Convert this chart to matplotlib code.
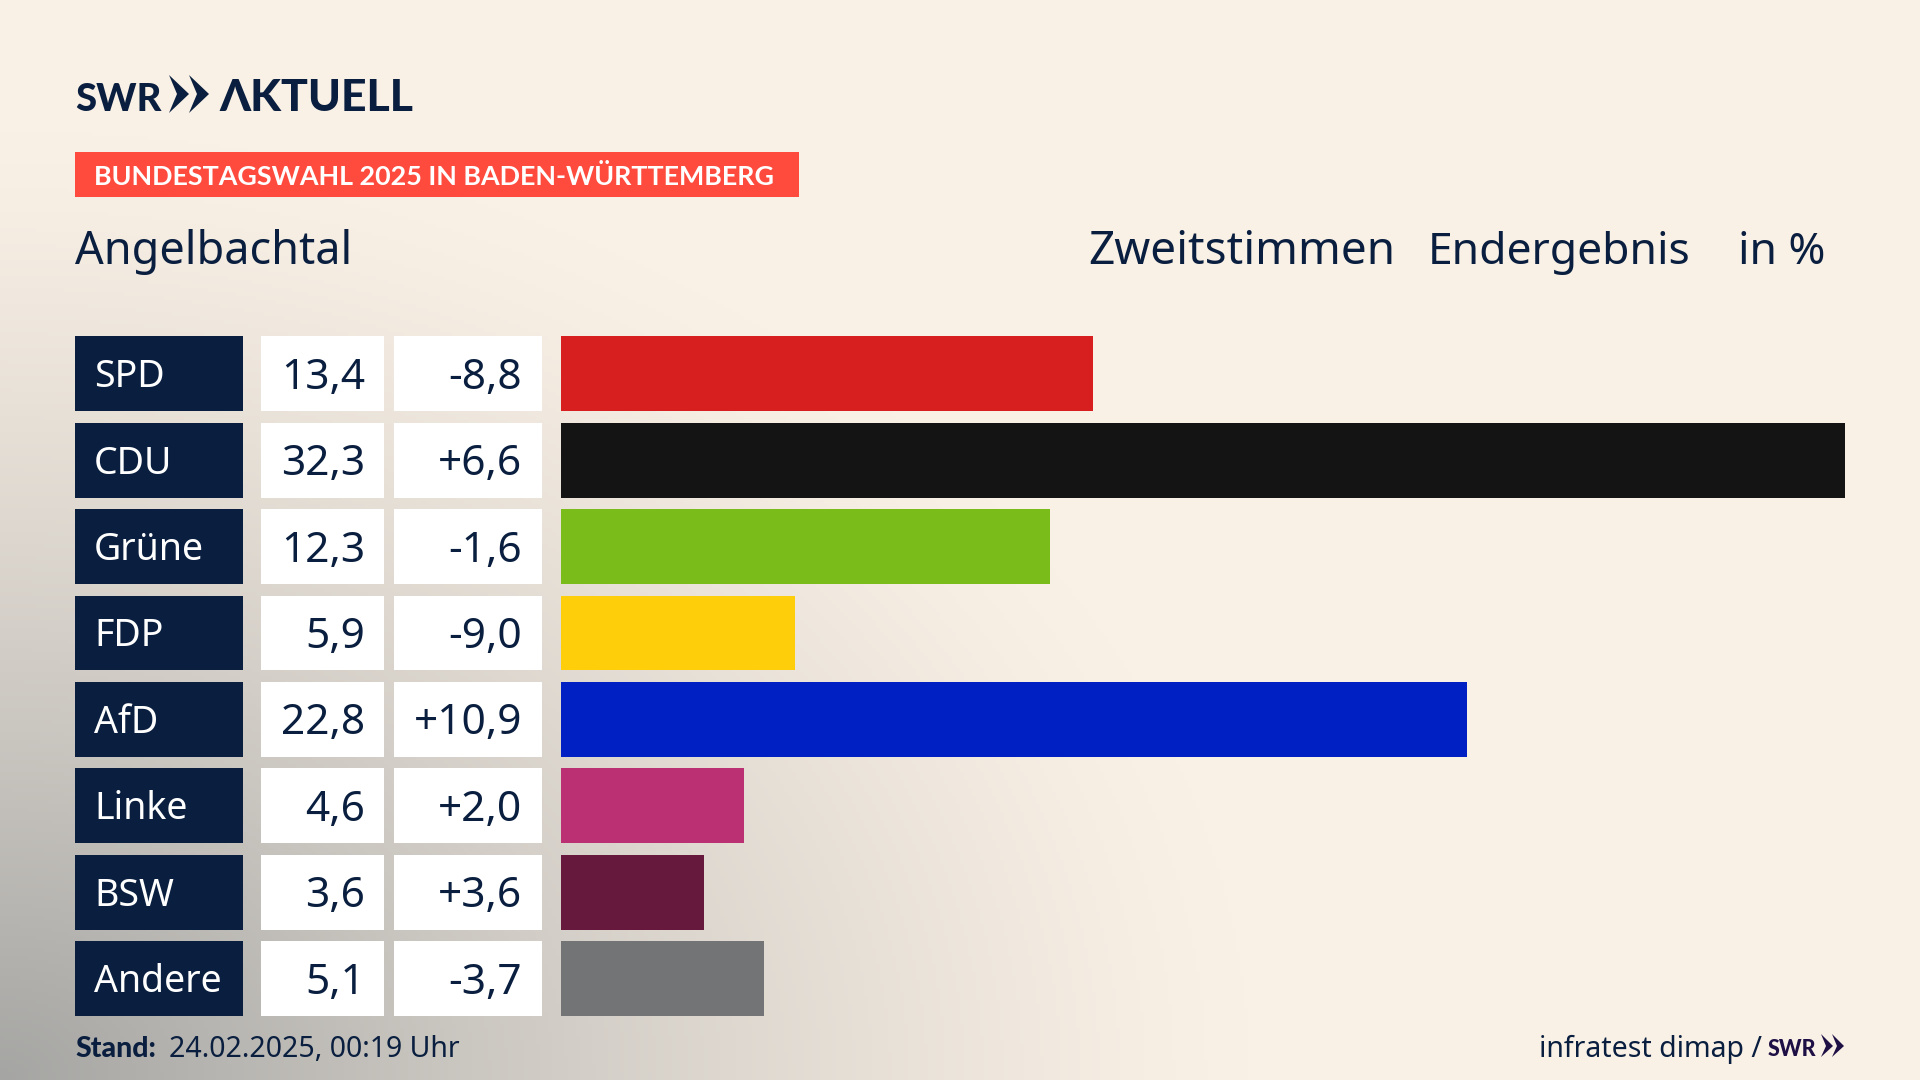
import numpy as np
import matplotlib
matplotlib.use('Agg')
import matplotlib.pyplot as plt
from matplotlib.patches import Rectangle, Polygon

# Daten
parteien = ['SPD', 'CDU', 'Grüne', 'FDP', 'AfD', 'Linke', 'BSW', 'Andere']
anteil = [13.4, 32.3, 12.3, 5.9, 22.8, 4.6, 3.6, 5.1]
anteil_text = ['13,4', '32,3', '12,3', '5,9', '22,8', '4,6', '3,6', '5,1']
diff_text = ['-8,8', '+6,6', '-1,6', '-9,0', '+10,9', '+2,0', '+3,6', '-3,7']
farben = ['#D71F1F', '#141414', '#7ABD1A', '#FFCE0A', '#0020C4', '#BB2F73', '#66193D', '#737476']

navy = '#0A1F3F'
fett = ['Lato', 'Liberation Sans']
sans = ['Noto Sans', 'DejaVu Sans']

fig = plt.figure(figsize=(19.2, 10.8), dpi=100)

# Hintergrund, grauer Verlauf von links unten
ax = fig.add_axes([0, 0, 1, 1])
xx, yy = np.meshgrid(np.linspace(0, 1920, 480), np.linspace(0, 1080, 270))
d = np.sqrt((xx / 1250) ** 2 + ((1080 - yy) / 950) ** 2)
t = np.clip(1 - d, 0, 1) ** 1.25
creme = np.array([250, 241, 230]) / 255
grau = np.array([165, 165, 163]) / 255
bg = creme[None, None, :] * (1 - t[..., None]) + grau[None, None, :] * t[..., None]
ax.imshow(bg, extent=[0, 1920, 1080, 0], aspect='auto', zorder=0)
ax.set_xlim(0, 1920)
ax.set_ylim(1080, 0)
ax.axis('off')

# Logo
ax.text(75, 111, 'SWR', family=fett, weight='black', fontsize=27.5, color=navy, va='baseline')
for x0 in [169, 189]:
    ax.add_patch(Polygon([(x0, 75), (x0 + 20, 94), (x0, 113), (x0 + 8, 94)], color=navy, lw=0))
ax.text(219, 111, 'ΛKTUELL', family=fett, weight='black', fontsize=32, color=navy, va='baseline')

# Kopfzeile
ax.add_patch(Rectangle((75, 152), 724, 45, color='#FF4B3E', lw=0))
ax.text(94, 185, 'BUNDESTAGSWAHL 2025 IN BADEN-WÜRTTEMBERG', family=fett, weight='bold',
        fontsize=19.4, color='white', va='baseline')
ax.text(75, 264, 'Angelbachtal', family=sans, fontsize=32.4, color=navy, va='baseline')
ax.text(1088, 264, 'Zweitstimmen', family=sans, fontsize=33, color=navy, va='baseline')
ax.text(1428, 264, 'Endergebnis', family=sans, fontsize=32, color=navy, va='baseline')
ax.text(1825, 264, 'in %', family=sans, fontsize=32, color=navy, va='baseline', ha='right')

# Tabelle links
oben = 336.4
abstand = 86.4
hoehe = 74.8
for i in range(len(parteien)):
    y = oben + i * abstand
    ax.add_patch(Rectangle((75, y), 167.5, hoehe, color=navy, lw=0))
    ax.add_patch(Rectangle((261, y), 123, hoehe, color='white', lw=0))
    ax.add_patch(Rectangle((394, y), 148, hoehe, color='white', lw=0))
    ym = y + hoehe / 2 - 1
    ax.text(94, ym, parteien[i], family=sans, fontsize=27, color='white', va='center_baseline')
    ax.text(365, ym, anteil_text[i], family=sans, fontsize=30.5, color=navy, va='center_baseline', ha='right')
    ax.text(522, ym, diff_text[i], family=sans, fontsize=30.5, color=navy, va='center_baseline', ha='right')

# Balken
ax_b = fig.add_axes([560.8 / 1920, 1 - (oben + 7 * abstand + hoehe) / 1080,
                     (1844.7 - 560.8) / 1920, (7 * abstand + hoehe) / 1080])
ax_b.patch.set_alpha(0)
ax_b.barh(range(len(parteien)), anteil, height=hoehe / abstand, color=farben)
ax_b.set_xlim(0, 32.3)
ax_b.set_ylim(7 + hoehe / abstand / 2, -hoehe / abstand / 2)
ax_b.axis('off')

# Fusszeile
ax.text(75, 1057, 'Stand:', family=fett, weight='black', fontsize=20.5, color=navy, va='baseline')
ax.text(169, 1057, '24.02.2025, 00:19 Uhr', family=sans, fontsize=20.5, color=navy, va='baseline')
ax.text(1539, 1057, 'infratest dimap /', family=sans, fontsize=20.5, color=navy, va='baseline')
swr_lila = '#1E0F45'
ax.text(1768, 1056, 'SWR', family=fett, weight='black', fontsize=15.5, color=swr_lila, va='baseline')
for x0 in [1821, 1832]:
    ax.add_patch(Polygon([(x0, 1034), (x0 + 12, 1046), (x0, 1057), (x0 + 5, 1046)], color=swr_lila, lw=0))

fig.savefig('out.png', dpi=100)
